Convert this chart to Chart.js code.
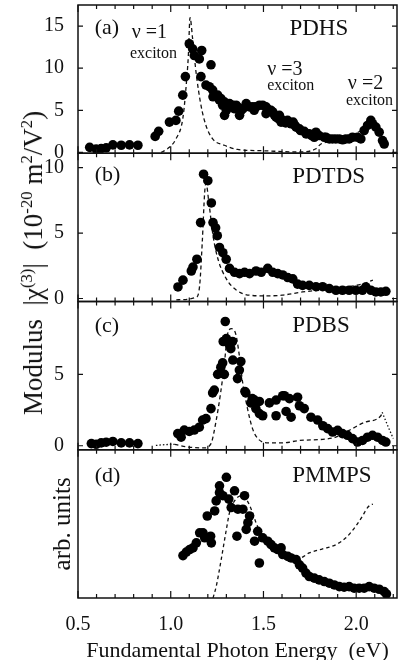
<!DOCTYPE html>
<html>
<head>
<meta charset="UTF-8">
<title>chi3 spectra</title>
<style>
  body { margin: 0; background: white; }
  #wrap { position: relative; width: 403px; height: 660px; overflow: hidden; }
  canvas { display: block; }
  #ytitle {
    position: absolute; left: 33px; top: 263px;
    transform: translate(-50%, -50%) rotate(-90deg);
    white-space: nowrap; font: 27px "Liberation Serif", serif; line-height: 1; color: #111;
  }
  #ytitle sup { font-size: 0.62em; }
</style>
</head>
<body>
<div id="wrap">
  <canvas id="chart" width="403" height="660"></canvas>
  <div id="ytitle">Modulus&nbsp; |χ<sup>(3)</sup>|&nbsp; (10<sup>-20</sup> m<sup>2</sup>/V<sup>2</sup>)</div>
</div>
<script src="https://cdn.jsdelivr.net/npm/chart.js"></script>
<script>
// photon energy axis
const xTicks = [0.5, 1.0, 1.5, 2.0];
const yTicksA = [0, 5, 10, 15];
const yTicksB = [0, 5, 10];
const yTicksC = [0, 5];

// (a) PDHS
const aDotE = [0.563, 0.598, 0.625, 0.652, 0.688, 0.733, 0.778, 0.823, 0.916, 0.935, 0.993, 1.028, 1.043, 1.065, 1.079, 1.100, 1.118, 1.127, 1.154, 1.163, 1.167, 1.190, 1.208, 1.217, 1.226, 1.228, 1.253, 1.263, 1.270, 1.280, 1.289, 1.290, 1.300, 1.317, 1.324, 1.335, 1.342, 1.353, 1.360, 1.371, 1.380, 1.390, 1.407, 1.425, 1.443, 1.450, 1.460, 1.478, 1.496, 1.514, 1.514, 1.520, 1.541, 1.550, 1.560, 1.568, 1.580, 1.586, 1.595, 1.604, 1.620, 1.630, 1.649, 1.660, 1.670, 1.676, 1.694, 1.700, 1.720, 1.730, 1.747, 1.760, 1.774, 1.783, 1.800, 1.828, 1.837, 1.855, 1.872, 1.890, 1.909, 1.927, 1.944, 1.962, 1.980, 2.007, 2.025, 2.043, 2.061, 2.079, 2.088, 2.106, 2.124, 2.142, 2.151];
const aDotV = [0.6, 0.4, 0.45, 0.55, 0.9, 0.85, 0.9, 0.85, 1.9, 2.5, 3.6, 3.8, 4.9, 6.8, 9.0, 12.9, 12.3, 11.5, 11.1, 9.0, 12.1, 8.0, 7.8, 10.4, 7.4, 6.6, 6.8, 6.2, 6.4, 5.6, 6.0, 4.4, 5.0, 5.8, 5.6, 5.6, 5.2, 5.6, 5.4, 4.4, 5.0, 5.2, 5.8, 5.4, 5.4, 5.0, 5.4, 5.6, 5.6, 4.6, 5.4, 5.2, 5.0, 4.8, 4.4, 4.2, 4.0, 4.4, 3.6, 3.8, 3.5, 3.8, 3.4, 3.6, 3.2, 3.0, 2.8, 2.6, 2.5, 2.2, 2.2, 2.0, 1.8, 2.4, 2.0, 1.8, 1.8, 1.6, 1.6, 1.6, 1.6, 1.5, 1.6, 1.6, 1.8, 1.8, 1.6, 2.6, 3.2, 3.8, 3.4, 3.0, 2.4, 1.4, 1.0];
const aCurveE = [0.948, 0.984, 1.028, 1.065, 1.082, 1.095, 1.104, 1.118, 1.136, 1.163, 1.190, 1.226, 1.289, 1.360, 1.495, 1.690, 1.780, 1.810, 1.900, 2.000, 2.060, 2.100];
const aCurveV = [0.0, 0.45, 1.6, 4.0, 7.6, 11.5, 16.0, 13.5, 9.6, 5.6, 3.2, 1.6, 0.85, 0.35, 0.2, 0.05, 0.4, 1.0, 1.4, 2.3, 3.0, 3.6];

// (b) PDTDS
const bDotE = [1.039, 1.066, 1.111, 1.120, 1.141, 1.161, 1.177, 1.200, 1.219, 1.228, 1.242, 1.251, 1.263, 1.281, 1.299, 1.317, 1.344, 1.371, 1.398, 1.425, 1.460, 1.488, 1.523, 1.550, 1.577, 1.604, 1.631, 1.658, 1.684, 1.711, 1.747, 1.783, 1.819, 1.855, 1.891, 1.926, 1.962, 1.998, 2.034, 2.052, 2.079, 2.106, 2.133, 2.160];
const bDotV = [0.88, 1.4, 2.1, 2.4, 3.0, 5.8, 9.5, 9.0, 7.3, 5.8, 5.4, 4.8, 3.9, 3.5, 3.0, 2.3, 2.0, 1.9, 2.0, 1.9, 2.1, 2.0, 2.3, 2.0, 1.9, 1.8, 1.6, 1.5, 1.1, 1.0, 1.0, 0.9, 0.9, 0.76, 0.63, 0.63, 0.63, 0.63, 0.63, 0.88, 0.63, 0.5, 0.5, 0.55];
const bCurveE = [1.030, 1.137, 1.156, 1.170, 1.183, 1.190, 1.206, 1.228, 1.255, 1.300, 1.353, 1.425, 1.514, 1.600, 1.711, 1.850, 2.030, 2.090];
const bCurveV = [-0.1, 0.1, 1.0, 4.3, 8.1, 8.8, 7.3, 4.8, 3.0, 1.5, 0.65, 0.25, 0.2, 0.25, 0.5, 0.7, 1.1, 1.4];

// (c) PDBS
const cDotE = [0.572, 0.598, 0.625, 0.652, 0.688, 0.733, 0.778, 0.823, 1.038, 1.056, 1.073, 1.100, 1.127, 1.154, 1.172, 1.190, 1.217, 1.226, 1.235, 1.253, 1.270, 1.280, 1.283, 1.289, 1.294, 1.300, 1.315, 1.324, 1.333, 1.335, 1.360, 1.370, 1.378, 1.400, 1.405, 1.432, 1.440, 1.452, 1.459, 1.478, 1.478, 1.496, 1.532, 1.568, 1.568, 1.604, 1.613, 1.622, 1.640, 1.649, 1.684, 1.694, 1.720, 1.756, 1.792, 1.820, 1.846, 1.873, 1.900, 1.926, 1.953, 1.980, 2.007, 2.034, 2.061, 2.088, 2.115, 2.142, 2.160];
const cDotV = [0.15, 0.1, 0.2, 0.25, 0.3, 0.2, 0.2, 0.15, 0.85, 0.6, 1.1, 1.0, 1.1, 1.3, 1.8, 1.9, 2.6, 3.7, 3.9, 5.0, 5.5, 5.8, 7.3, 5.0, 8.7, 7.5, 7.1, 6.8, 7.3, 6.0, 4.7, 5.3, 5.9, 3.8, 3.7, 3.0, 3.3, 3.2, 2.6, 3.1, 2.25, 2.1, 3.0, 2.1, 3.2, 3.5, 3.5, 2.4, 3.3, 2.0, 3.4, 2.8, 2.6, 2.0, 1.8, 1.4, 1.2, 0.96, 1.08, 0.85, 0.73, 0.5, 0.26, 0.37, 0.6, 0.73, 0.6, 0.37, 0.26];
const cCurveE = [1.020, 1.100, 1.180, 1.217, 1.244, 1.270, 1.289, 1.306, 1.328, 1.351, 1.369, 1.387, 1.414, 1.441, 1.470, 1.532, 1.604, 1.694, 1.873, 1.962, 2.052, 2.133, 2.140];
const cCurveV = [0.1, -0.1, -0.15, 0.15, 1.7, 3.8, 5.7, 7.8, 8.2, 7.8, 6.4, 4.5, 2.6, 1.2, 0.5, 0.2, 0.2, 0.37, 0.54, 1.08, 1.67, 2.1, 2.35];
const cLowE = [0.92, 0.97, 1.02];
const cLowV = [0.02, 0.08, 0.1];
const cTailE = [2.14, 2.17, 2.20];
const cTailV = [2.35, 1.4, 0.5];

// (d) PMMPS, arbitrary units
const dDotE = [1.066, 1.084, 1.102, 1.120, 1.138, 1.156, 1.174, 1.183, 1.197, 1.215, 1.219, 1.237, 1.245, 1.263, 1.263, 1.281, 1.300, 1.313, 1.326, 1.344, 1.357, 1.362, 1.389, 1.398, 1.407, 1.416, 1.425, 1.452, 1.469, 1.478, 1.496, 1.523, 1.541, 1.559, 1.577, 1.595, 1.604, 1.631, 1.649, 1.676, 1.694, 1.711, 1.729, 1.747, 1.774, 1.800, 1.828, 1.855, 1.882, 1.909, 1.935, 1.962, 1.989, 2.016, 2.043, 2.070, 2.097, 2.124, 2.151, 2.163];
const dDotV = [2.86, 3.1, 3.27, 3.38, 3.72, 4.4, 4.4, 4.06, 5.53, 4.17, 3.72, 5.87, 6.55, 7.57, 7.1, 6.9, 8.14, 6.67, 6.1, 7.23, 4.17, 5.99, 5.99, 6.9, 4.63, 5.08, 5.53, 3.83, 4.5, 2.36, 4.06, 3.83, 3.6, 3.38, 3.27, 3.38, 2.93, 2.81, 2.7, 2.59, 2.24, 2.02, 1.68, 1.45, 1.34, 1.22, 1.11, 1.0, 0.88, 0.77, 0.73, 0.77, 0.66, 0.66, 0.66, 0.77, 0.66, 0.59, 0.43, 0.27];
const dCurveE = [1.228, 1.245, 1.272, 1.300, 1.317, 1.344, 1.380, 1.407, 1.434, 1.460, 1.496, 1.550, 1.604, 1.658, 1.694, 1.747, 1.819, 1.891, 1.944, 1.998, 2.034, 2.061, 2.079, 2.090];
const dCurveV = [0.0, 0.77, 2.59, 4.63, 5.76, 6.55, 6.9, 6.67, 5.99, 5.08, 4.17, 3.6, 3.15, 2.81, 2.7, 3.04, 3.31, 3.6, 4.06, 4.85, 5.53, 6.1, 6.28, 6.33];

const serif = "'Liberation Serif', 'Times New Roman', serif";
const ink = '#111';
Chart.defaults.font.family = serif;
Chart.defaults.color = ink;

const pts = (xs, ys) => xs.map((x, i) => ({ x, y: ys[i] }));

function dots(xs, ys, axis) {
  return { data: pts(xs, ys), yAxisID: axis, showLine: false, pointRadius: 4.8,
           pointBackgroundColor: '#000', pointBorderWidth: 0 };
}
function curve(xs, ys, axis, dash) {
  return { data: pts(xs, ys), yAxisID: axis, showLine: true, pointRadius: 0,
           borderColor: ink, borderWidth: 1.3, borderDash: dash || [4, 3],
           cubicInterpolationMode: 'monotone' };
}

// no label overhang padding, so the panels fill the plot exactly
function noOverhang(s) {
  s.paddingTop = 0; s.paddingBottom = 0; s.paddingLeft = 0; s.paddingRight = 0;
}

function yScale(weight, min, max, tickList) {
  return {
    type: 'linear', position: 'left', stack: 'panels', stackWeight: 1, weight,
    min, max,
    afterBuildTicks: s => { s.ticks = tickList.map(v => ({ value: v })); },
    afterFit: s => { s.width = 78; noOverhang(s); },
    grid: { display: false }, border: { display: false },
    ticks: { font: { size: 20 }, color: ink, padding: 6 }
  };
}

const panelIds = ['yA', 'yB', 'yC', 'yD'];

// frame around each panel with inward ticks
const framePlugin = {
  id: 'frames',
  afterDatasetsDraw(chart) {
    const { ctx, chartArea: area, scales } = chart;
    const x = scales.x;
    ctx.save();
    ctx.strokeStyle = ink;
    panelIds.forEach(id => {
      const s = scales[id];
      ctx.lineWidth = 1.5;
      ctx.strokeRect(area.left, s.top, area.right - area.left, s.bottom - s.top);
      ctx.lineWidth = 1.2;
      ctx.beginPath();
      for (let i = 5; i <= 22; i++) {
        const px = x.getPixelForValue(i / 10);
        const len = i % 5 === 0 ? 7 : 4;
        ctx.moveTo(px, s.top); ctx.lineTo(px, s.top + len);
        ctx.moveTo(px, s.bottom); ctx.lineTo(px, s.bottom - len);
      }
      s.ticks.forEach(t => {
        const py = s.getPixelForValue(t.value);
        ctx.moveTo(area.left, py); ctx.lineTo(area.left + 5, py);
        ctx.moveTo(area.right, py); ctx.lineTo(area.right - 5, py);
      });
      ctx.stroke();
    });
    ctx.restore();
  }
};

// panel names and exciton labels, placed in data coordinates
const notes = [
  { t: '(a)', ax: 'yA', x: 0.59, y: 14.8, size: 22 },
  { t: 'PDHS', ax: 'yA', x: 1.64, y: 14.7, size: 23 },
  { t: 'ν =1', ax: 'yA', x: 0.79, y: 14.2, size: 20 },
  { t: 'exciton', ax: 'yA', x: 0.78, y: 11.7, size: 16 },
  { t: 'ν =3', ax: 'yA', x: 1.52, y: 9.8, size: 20 },
  { t: 'exciton', ax: 'yA', x: 1.52, y: 7.9, size: 16 },
  { t: 'ν =2', ax: 'yA', x: 1.955, y: 8.1, size: 20 },
  { t: 'exciton', ax: 'yA', x: 1.945, y: 6.1, size: 16 },
  { t: '(b)', ax: 'yB', x: 0.59, y: 9.4, size: 22 },
  { t: 'PDTDS', ax: 'yB', x: 1.655, y: 9.3, size: 23 },
  { t: '(c)', ax: 'yC', x: 0.59, y: 8.4, size: 22 },
  { t: 'PDBS', ax: 'yC', x: 1.655, y: 8.4, size: 23 },
  { t: '(d)', ax: 'yD', x: 0.59, y: 8.2, size: 22 },
  { t: 'PMMPS', ax: 'yD', x: 1.655, y: 8.2, size: 23 }
];
const notePlugin = {
  id: 'notes',
  afterDraw(chart) {
    const { ctx, scales } = chart;
    ctx.save();
    ctx.fillStyle = ink;
    ctx.textAlign = 'left';
    ctx.textBaseline = 'middle';
    notes.forEach(n => {
      ctx.font = n.size + 'px ' + serif;
      ctx.fillText(n.t, scales.x.getPixelForValue(n.x), scales[n.ax].getPixelForValue(n.y));
    });
    ctx.restore();
  }
};

new Chart(document.getElementById('chart'), {
  type: 'scatter',
  data: {
    datasets: [
      dots(aDotE, aDotV, 'yA'),
      dots(bDotE, bDotV, 'yB'),
      dots(cDotE, cDotV, 'yC'),
      dots(dDotE, dDotV, 'yD'),
      curve(aCurveE, aCurveV, 'yA'),
      curve(bCurveE, bCurveV, 'yB'),
      curve(cCurveE, cCurveV, 'yC'),
      curve(cLowE, cLowV, 'yC', [1.5, 2]),
      curve(cTailE, cTailV, 'yC', [1.5, 2]),
      curve(dCurveE, dCurveV, 'yD', [3.5, 3])
    ]
  },
  options: {
    responsive: false,
    animation: false,
    layout: { padding: { top: 5, right: 6, left: 0, bottom: 0 } },
    plugins: { legend: { display: false }, tooltip: { enabled: false } },
    scales: {
      x: {
        type: 'linear', position: 'bottom', min: 0.5, max: 2.22,
        afterBuildTicks: s => { s.ticks = xTicks.map(v => ({ value: v })); },
        afterFit: s => { s.height = 62; noOverhang(s); },
        grid: { display: false }, border: { display: false },
        ticks: { font: { size: 20 }, color: ink, padding: 7, maxRotation: 0,
                 callback: v => v.toFixed(1) },
        title: { display: true, text: 'Fundamental Photon Energy  (eV)', color: ink,
                 font: { size: 22, lineHeight: 1 }, padding: { top: 0, bottom: -2 } }
      },
      yA: yScale(4, -0.1, 17.5, yTicksA),
      yB: yScale(3, -0.23, 11.1, yTicksB),
      yC: yScale(2, -0.28, 10.1, yTicksC),
      yD: Object.assign(yScale(1, 0, 10, []), {
        title: { display: true, text: 'arb. units', color: ink,
                 font: { size: 25, lineHeight: 1 }, padding: { top: 51, bottom: 0 } }
      })
    }
  },
  plugins: [framePlugin, notePlugin]
});
</script>
</body>
</html>
